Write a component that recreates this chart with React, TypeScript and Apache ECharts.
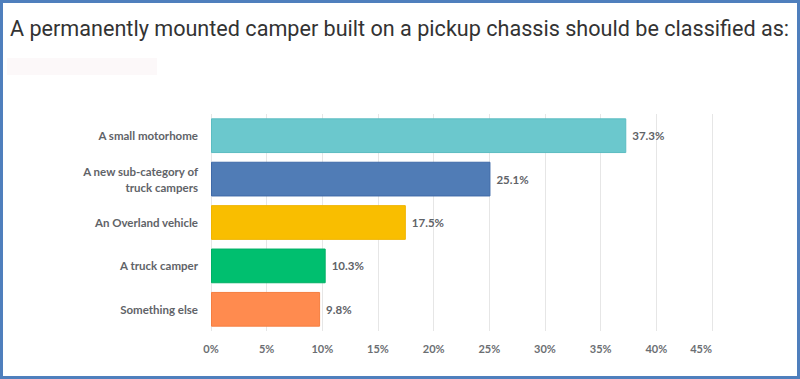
import React, { useEffect, useRef } from "react";
import * as echarts from "echarts";

const titleText = "A permanently mounted camper built on a pickup chassis should be classified as:";
const categories = [
  "A small motorhome",
  "A new sub-category of\ntruck campers",
  "An Overland vehicle",
  "A truck camper",
  "Something else",
];
const values = [37.3, 25.1, 17.5, 10.3, 9.8];
const barColors = ["#6BC8CD", "#507CB6", "#F9BE00", "#00BF6F", "#FF8B4F"];
const borderColors = ["#5bbcc2", "#3f6aa8", "#f0b400", "#00b065", "#f57e40"];

export default function App() {
  const ref = useRef<HTMLDivElement>(null);
  useEffect(() => {
    document.body.style.margin = "0";
    const chart = echarts.init(ref.current!, undefined, { renderer: "svg" });
    chart.setOption({
      animation: false,
      backgroundColor: "#ffffff",
      title: {
        text: titleText,
        left: 2,
        top: 9,
        textStyle: { fontFamily: "Roboto", fontSize: 21.6, fontWeight: "normal", color: "#333333" },
      },
      graphic: [
        { type: "rect", left: 4, top: 55, shape: { width: 150, height: 17 }, style: { fill: "#fcf8f9" } },
      ],
      grid: { left: 208, right: 85, top: 111, height: 217, containLabel: false },
      xAxis: {
        type: "value",
        min: 0,
        max: 45,
        interval: 5,
        axisLine: { show: false },
        axisTick: { show: false },
        splitLine: { show: true, lineStyle: { color: "#e6e6e6", width: 1 } },
        axisLabel: {
          formatter: "{value}%",
          color: "#6b6e72",
          fontFamily: "Lato",
          fontWeight: "bold",
          fontSize: 11,
          margin: 12,
          alignMaxLabel: "right",
        },
      },
      yAxis: {
        type: "category",
        inverse: true,
        data: categories,
        axisLine: { show: false },
        axisTick: { show: false },
        splitLine: { show: false },
        axisLabel: {
          color: "#5f6368",
          fontFamily: "Lato",
          fontWeight: "bold",
          fontSize: 11.5,
          margin: 13,
          lineHeight: 16,
          align: "right",
        },
      },
      series: [
        {
          type: "bar",
          data: values.map((v, i) => ({
            value: v,
            itemStyle: { color: barColors[i], borderColor: borderColors[i], borderWidth: 1 },
          })),
          barCategoryGap: "20%",
          label: {
            show: true,
            position: "right",
            distance: 6,
            formatter: (p: any) => p.value.toFixed(1) + "%",
            color: "#5f6368",
            fontFamily: "Lato",
            fontWeight: "bold",
            fontSize: 11.5,
          },
        },
      ],
    });
    return () => chart.dispose();
  }, []);
  return (
    <div
      style={{
        position: "absolute",
        left: 0,
        top: 0,
        width: 800,
        height: 379,
        border: "3px solid #4f7fbd",
        boxSizing: "border-box",
        background: "#fff",
      }}
    >
      <div ref={ref} style={{ width: 794, height: 373 }} />
    </div>
  );
}
